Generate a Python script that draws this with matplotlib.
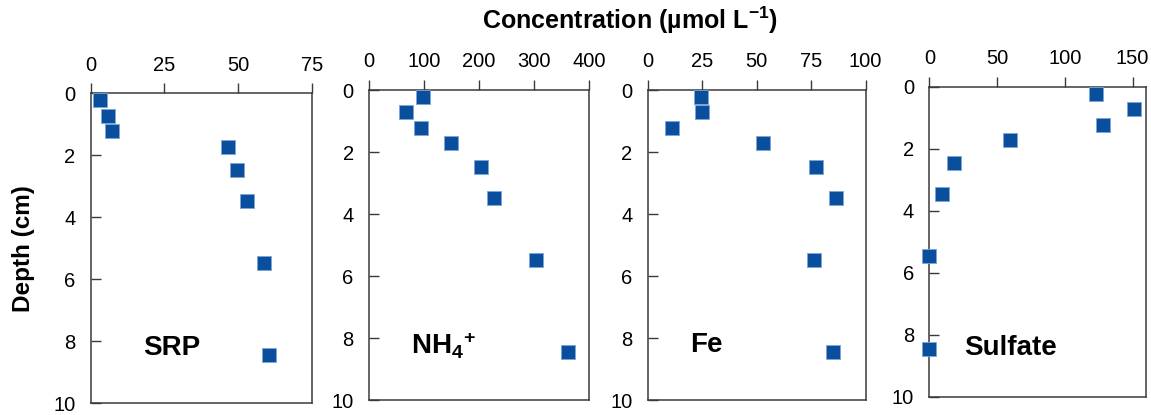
from __future__ import annotations

import matplotlib

matplotlib.use("Agg")
import matplotlib.pyplot as plt

# sediment depth of each porewater sample (cm)
depth = [0.22, 0.72, 1.22, 1.72, 2.47, 3.47, 5.47, 8.45]

srp = [3.2, 5.8, 7.1, 46.7, 49.8, 52.9, 58.9, 60.4]
nh4 = [98.6, 67, 94, 148, 204, 227, 303, 362]
fe = [24.3, 25.1, 11.2, 52.9, 77.4, 86.2, 76.1, 85.2]
sulfate = [123, 150.9, 127.9, 59.8, 18.3, 9.6, 0, 0]

panel_names = ["SRP", "NH$_{4}{}^{+}$", "Fe", "Sulfate"]
x_ticks = [[0, 25, 50, 75], [0, 100, 200, 300, 400], [0, 25, 50, 75, 100], [0, 50, 100, 150]]
x_max = [75, 400, 100, 160]
y_ticks = [0, 2, 4, 6, 8, 10]

BLUE = "#0a4f9e"
EDGE = "#7fa6d4"
SPINE = "#3a3a3a"


def main() -> int:
    plt.rcParams["font.family"] = ["Liberation Sans", "DejaVu Sans"]
    plt.rcParams["mathtext.default"] = "regular"

    fig = plt.figure(figsize=(11.51, 4.15), dpi=100)
    boxes = [
        [0.0788, 0.0282, 0.1920, 0.7470],
        [0.3206, 0.0361, 0.1914, 0.7470],
        [0.5627, 0.0361, 0.1894, 0.7470],
        [0.8074, 0.0441, 0.1883, 0.7470],
    ]
    series = [srp, nh4, fe, sulfate]
    label_pos = [(0.237, 8.22), (0.19, 8.25), (0.194, 8.22), (0.162, 8.42)]

    for i, (box, vals) in enumerate(zip(boxes, series)):
        ax = fig.add_axes(box)
        ax.scatter(vals, depth, marker="s", s=105, color=BLUE, edgecolors=EDGE,
                   linewidths=0.6, zorder=3, clip_on=False)
        ax.set_xlim(0, x_max[i])
        ax.set_ylim(10, 0)
        ax.xaxis.tick_top()
        ax.set_xticks(x_ticks[i])
        ax.set_yticks(y_ticks)
        ax.tick_params(axis="x", direction="out", length=7.5, width=1.0, pad=6,
                       labelsize=14.5, color=SPINE)
        ax.tick_params(axis="y", direction="in", length=7.5, width=1.0, pad=11,
                       labelsize=14.5, color=SPINE)
        for sp in ax.spines.values():
            sp.set_color(SPINE)
            sp.set_linewidth(1.1)
        lx, ly = label_pos[i]
        ax.text(lx, ly, panel_names[i], transform=ax.get_yaxis_transform(),
                fontsize=20, fontweight="bold", va="center", ha="left")
        if i == 0:
            ax.set_ylabel("Depth (cm)", fontsize=17.5, fontweight="bold", labelpad=13)

    fig.text(0.547, 0.952, "Concentration (µmol L$^{-1}$)", fontsize=18,
             fontweight="bold", ha="center", va="center")

    fig.savefig("out.png", dpi=100)
    plt.close(fig)
    return 0


if __name__ == "__main__":
    raise SystemExit(main())
